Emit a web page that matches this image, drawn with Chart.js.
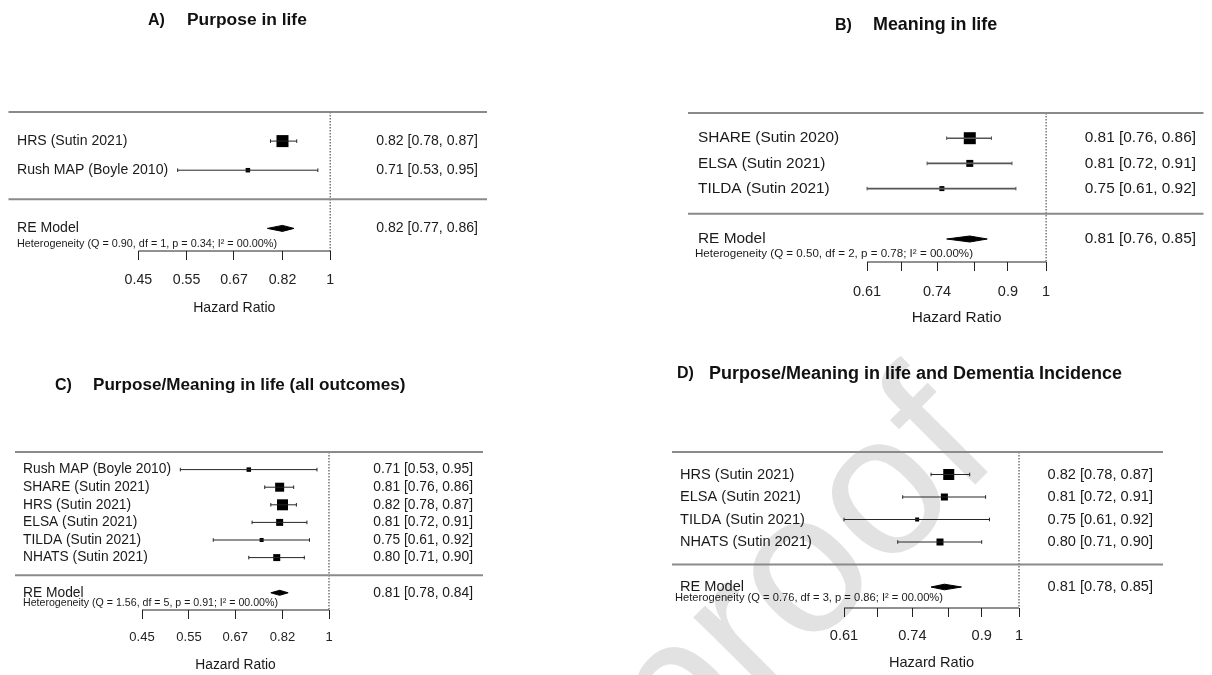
<!DOCTYPE html>
<html>
<head>
<meta charset="utf-8">
<script src="https://cdn.jsdelivr.net/npm/chart.js@4.4.1/dist/chart.umd.min.js"></script>
<style>
html, body { margin: 0; padding: 0; background: #fff; }
#page { position: relative; width: 1212px; height: 675px; overflow: hidden; background: #fff;
        font-family: "Liberation Sans", Arial, sans-serif; }
canvas { position: absolute; left: 0; top: 0; }
.ttl { position: absolute; white-space: nowrap; font-weight: bold; color: #111; line-height: 1; }
#wm { position: absolute; white-space: nowrap; color: #e2e2e2; line-height: 1; font-size: 200px; }
</style>
</head>
<body>
<div id="page">
  <div id="wm">proof</div>
  <canvas id="cA" width="1212" height="675"></canvas>
  <canvas id="cB" width="1212" height="675"></canvas>
  <canvas id="cC" width="1212" height="675"></canvas>
  <canvas id="cD" width="1212" height="675"></canvas>
</div>
<script>
// ===================== DATA =====================
// Panel A
const titleA = ["A)", "Purpose in life"];
const studiesA = ["HRS (Sutin 2021)", "Rush MAP (Boyle 2010)"];
const hrA   = [0.82, 0.71];
const lowA  = [0.78, 0.53];
const highA = [0.87, 0.95];
const reA   = [0.82, 0.77, 0.86];          // estimate, lower, upper
const hetA  = "Heterogeneity (Q = 0.90, df = 1, p = 0.34; I\u00B2 = 00.00%)";
const ticksA = [0.45, 0.55, 0.67, 0.82, 1];
const tickLabelsA = ["0.45", "0.55", "0.67", "0.82", "1"];

// Panel B
const titleB = ["B)", "Meaning in life"];
const studiesB = ["SHARE (Sutin 2020)", "ELSA (Sutin 2021)", "TILDA (Sutin 2021)"];
const hrB   = [0.81, 0.81, 0.75];
const lowB  = [0.76, 0.72, 0.61];
const highB = [0.86, 0.91, 0.92];
const reB   = [0.81, 0.76, 0.85];
const hetB  = "Heterogeneity (Q = 0.50, df = 2, p = 0.78; I\u00B2 = 00.00%)";
const ticksB = [0.61, 0.67, 0.74, 0.82, 0.9, 1];
const tickLabelsB = ["0.61", "", "0.74", "", "0.9", "1"];

// Panel C
const titleC = ["C)", "Purpose/Meaning in life (all outcomes)"];
const studiesC = ["Rush MAP (Boyle 2010)", "SHARE (Sutin 2021)", "HRS (Sutin 2021)",
                  "ELSA (Sutin 2021)", "TILDA (Sutin 2021)", "NHATS (Sutin 2021)"];
const hrC   = [0.71, 0.81, 0.82, 0.81, 0.75, 0.80];
const lowC  = [0.53, 0.76, 0.78, 0.72, 0.61, 0.71];
const highC = [0.95, 0.86, 0.87, 0.91, 0.92, 0.90];
const reC   = [0.81, 0.78, 0.84];
const hetC  = "Heterogeneity (Q = 1.56, df = 5, p = 0.91; I\u00B2 = 00.00%)";
const ticksC = [0.45, 0.55, 0.67, 0.82, 1];
const tickLabelsC = ["0.45", "0.55", "0.67", "0.82", "1"];

// Panel D
const titleD = ["D)", "Purpose/Meaning in life and Dementia Incidence"];
const studiesD = ["HRS (Sutin 2021)", "ELSA (Sutin 2021)", "TILDA (Sutin 2021)", "NHATS (Sutin 2021)"];
const hrD   = [0.82, 0.81, 0.75, 0.80];
const lowD  = [0.78, 0.72, 0.61, 0.71];
const highD = [0.87, 0.91, 0.92, 0.90];
const reD   = [0.81, 0.78, 0.85];
const hetD  = "Heterogeneity (Q = 0.76, df = 3, p = 0.86; I\u00B2 = 00.00%)";
const ticksD = [0.61, 0.67, 0.74, 0.82, 0.9, 1];
const tickLabelsD = ["0.61", "", "0.74", "", "0.9", "1"];

const axisTitle = "Hazard Ratio";
const summaryLabel = "RE Model";
const watermark = "proof";

// ===================== STYLE / LAYOUT =====================
const FAMILY = '"Liberation Sans", Arial, sans-serif';
const boxA = [12, 4.5];
const boxB = [12, 7, 5];
const boxC = [4.5, 9, 11, 7, 4, 7];
const boxD = [11, 7, 4, 7];

const layoutA = {left: 8, right: 487, top: 112, rowPx: 29.1, axisPx: 251, tickMinPx: 138, onePx: 330,
  labelX: 17, ciX: 478, hetX: 17, hetDy: 15.6, hetW: 260, fs: 14.1, tickFs: 14.2, tickPad: 12,
  titleDy: 57, diaH: 3, ci: '#262626', ciW: 1};
const layoutB = {left: 688, right: 1212, top: 113, rowPx: 25.2, axisPx: 262, tickMinPx: 870, onePx: 1052,
  labelX: 698, ciX: 1196, hetX: 695, hetDy: 15, hetW: 278, fs: 15.4, tickFs: 14.5, tickPad: 12,
  titleDy: 56, diaH: 3, ci: '#555555', ciW: 1.6};
const layoutC = {left: 15, right: 483, top: 452, rowPx: 17.6, axisPx: 610, tickMinPx: 142, onePx: 329,
  labelX: 23, ciX: 473, hetX: 23, hetDy: 10, hetW: 255, fs: 13.8, tickFs: 13, tickPad: 11,
  titleDy: 55, diaH: 2.5, ci: '#262626', ciW: 1};
const layoutD = {left: 672, right: 1163, top: 452, rowPx: 22.5, axisPx: 608, tickMinPx: 844, onePx: 1019,
  labelX: 680, ciX: 1153, hetX: 675, hetDy: 11, hetW: 268, fs: 14.6, tickFs: 14.6, tickPad: 10,
  titleDy: 55, diaH: 2.8, ci: '#262626', ciW: 1};

const titleLayout = [
  {t: titleA, x1: 148, x2: 187, capC: 19.5, fs1: 16, fs2: 17.4},
  {t: titleB, x1: 835, x2: 873, capC: 24.5, fs1: 16, fs2: 17.9},
  {t: titleC, x1: 55,  x2: 93,  capC: 384.5, fs1: 16, fs2: 17.1},
  {t: titleD, x1: 677, x2: 709, capC: 372.5, fs1: 16, fs2: 18}
];

const fmt = (e, l, h) => e.toFixed(2) + " [" + l.toFixed(2) + ", " + h.toFixed(2) + "]";

function textPlugin(d, L) {
  return {
    id: 'forestText',
    afterDraw(chart) {
      const ctx = chart.ctx, xs = chart.scales.x, ys = chart.scales.y;
      const k = d.studies.length;
      ctx.save();
      ctx.fillStyle = '#1a1a1a';
      ctx.textBaseline = 'middle';
      ctx.font = L.fs + 'px ' + FAMILY;
      d.studies.forEach((s, i) => {
        const py = ys.getPixelForValue(i + 1);
        ctx.textAlign = 'left';
        ctx.fillText(s, L.labelX, py);
        ctx.textAlign = 'right';
        ctx.fillText(fmt(d.hr[i], d.low[i], d.high[i]), L.ciX, py);
      });
      const pyRE = ys.getPixelForValue(k + 2);
      ctx.textAlign = 'left';
      ctx.fillText(summaryLabel, L.labelX, pyRE);
      ctx.textAlign = 'right';
      ctx.fillText(fmt(d.re[0], d.re[1], d.re[2]), L.ciX, pyRE);
      // heterogeneity (narrow small text)
      ctx.font = '10.3px ' + FAMILY;
      ctx.textAlign = 'left';
      const w = ctx.measureText(d.het).width;
      ctx.save();
      ctx.translate(L.hetX, pyRE + L.hetDy);
      ctx.scale(L.hetW / w, 1);
      ctx.fillText(d.het, 0, 0);
      ctx.restore();
      // axis title
      ctx.font = L.fs + 'px ' + FAMILY;
      ctx.textAlign = 'center';
      const cx = (xs.getPixelForValue(d.ticks[0]) + xs.getPixelForValue(1)) / 2;
      ctx.fillText(axisTitle, cx, L.axisPx + L.titleDy);
      ctx.restore();
    }
  };
}

function buildPanel(id, d, L, box) {
  const k = d.studies.length;
  const reRow = k + 2, sepRow = k + 1;
  const axisRow = (L.axisPx - L.top) / L.rowPx;
  const ppl = (L.onePx - L.tickMinPx) / (-Math.log10(d.ticks[0]));
  const xmin = Math.pow(10, (L.left - L.onePx) / ppl);
  const xmax = Math.pow(10, (L.right - L.onePx) / ppl);
  const ds = [];
  const base = {showLine: true, pointRadius: 0, clip: false};
  [0, sepRow].forEach(r => ds.push(Object.assign({}, base, {
    data: [{x: xmin, y: r}, {x: xmax, y: r}], borderColor: '#8a8a8a', borderWidth: 2})));
  ds.push(Object.assign({}, base, {data: [{x: 1, y: 0}, {x: 1, y: axisRow}],
    borderColor: '#333', borderWidth: 1, borderDash: [1.5, 1.5]}));
  ds.push(Object.assign({}, base, {data: [{x: d.ticks[0], y: axisRow}, {x: 1, y: axisRow}],
    borderColor: '#222', borderWidth: 1}));
  d.studies.forEach((s, i) => ds.push(Object.assign({}, base, {
    data: [{x: d.low[i], y: i + 1}, {x: d.high[i], y: i + 1}],
    borderColor: L.ci, borderWidth: L.ciW,
    pointStyle: 'line', rotation: 90, pointRadius: 1.8, pointBorderColor: L.ci, pointBorderWidth: 1})));
  ds.push({data: d.hr.map((v, i) => ({x: v, y: i + 1})), showLine: false, clip: false,
    pointStyle: 'rect', pointRadius: box.map(s => s / Math.SQRT2),
    pointBackgroundColor: '#000', pointBorderColor: '#000', pointBorderWidth: 0});
  const h = L.diaH / L.rowPx;
  ds.push(Object.assign({}, base, {
    data: [{x: d.re[1], y: reRow}, {x: d.re[0], y: reRow - h}, {x: d.re[2], y: reRow},
           {x: d.re[0], y: reRow + h}, {x: d.re[1], y: reRow}],
    fill: 'shape', backgroundColor: '#000', borderColor: '#000', borderWidth: 1}));

  new Chart(document.getElementById(id), {
    type: 'scatter',
    data: {datasets: ds},
    options: {
      responsive: false, animation: false, events: [], devicePixelRatio: 1,
      layout: {padding: {left: L.left, right: 1212 - L.right, top: L.top, bottom: 675 - L.axisPx - 40}},
      plugins: {legend: {display: false}, tooltip: {enabled: false}},
      scales: {
        x: {type: 'logarithmic', position: 'bottom', min: xmin, max: xmax,
          afterBuildTicks: sc => { sc.ticks = d.ticks.map(v => ({value: v})); },
          afterFit: sc => { sc.height = 40; },
          ticks: {callback: (v, i) => d.tickLabels[i], color: '#222', autoSkip: false, maxRotation: 0,
                  font: {family: FAMILY, size: L.tickFs}, padding: L.tickPad},
          grid: {drawOnChartArea: false, drawTicks: true, tickLength: 9, color: '#222', lineWidth: 1},
          border: {display: false}},
        y: {type: 'linear', reverse: true, min: 0, max: axisRow, display: false}
      }
    },
    plugins: [textPlugin(d, L)]
  });
}

buildPanel('cA', {studies: studiesA, hr: hrA, low: lowA, high: highA, re: reA, het: hetA, ticks: ticksA, tickLabels: tickLabelsA}, layoutA, boxA);
buildPanel('cB', {studies: studiesB, hr: hrB, low: lowB, high: highB, re: reB, het: hetB, ticks: ticksB, tickLabels: tickLabelsB}, layoutB, boxB);
buildPanel('cC', {studies: studiesC, hr: hrC, low: lowC, high: highC, re: reC, het: hetC, ticks: ticksC, tickLabels: tickLabelsC}, layoutC, boxC);
buildPanel('cD', {studies: studiesD, hr: hrD, low: lowD, high: highD, re: reD, het: hetD, ticks: ticksD, tickLabels: tickLabelsD}, layoutD, boxD);

// titles (HTML text)
const page = document.getElementById('page');
titleLayout.forEach(T => {
  [[T.t[0], T.x1, T.fs1], [T.t[1], T.x2, T.fs2]].forEach(([txt, x, fs]) => {
    const el = document.createElement('div');
    el.className = 'ttl';
    el.textContent = txt;
    el.style.fontSize = fs + 'px';
    el.style.left = x + 'px';
    const baseline = T.capC + 0.358 * fs;
    el.style.top = (baseline - 0.8465 * fs) + 'px';
    page.appendChild(el);
  });
});

// watermark
const wm = document.getElementById('wm');
wm.textContent = watermark;
const wfs = 200, ox = 680, oy = 780;
wm.style.left = ox + 'px';
wm.style.top = (oy - 0.8465 * wfs) + 'px';
wm.style.transformOrigin = '0px ' + (0.8465 * wfs) + 'px';
wm.style.transform = 'rotate(-45deg)';
</script>
</body>
</html>
